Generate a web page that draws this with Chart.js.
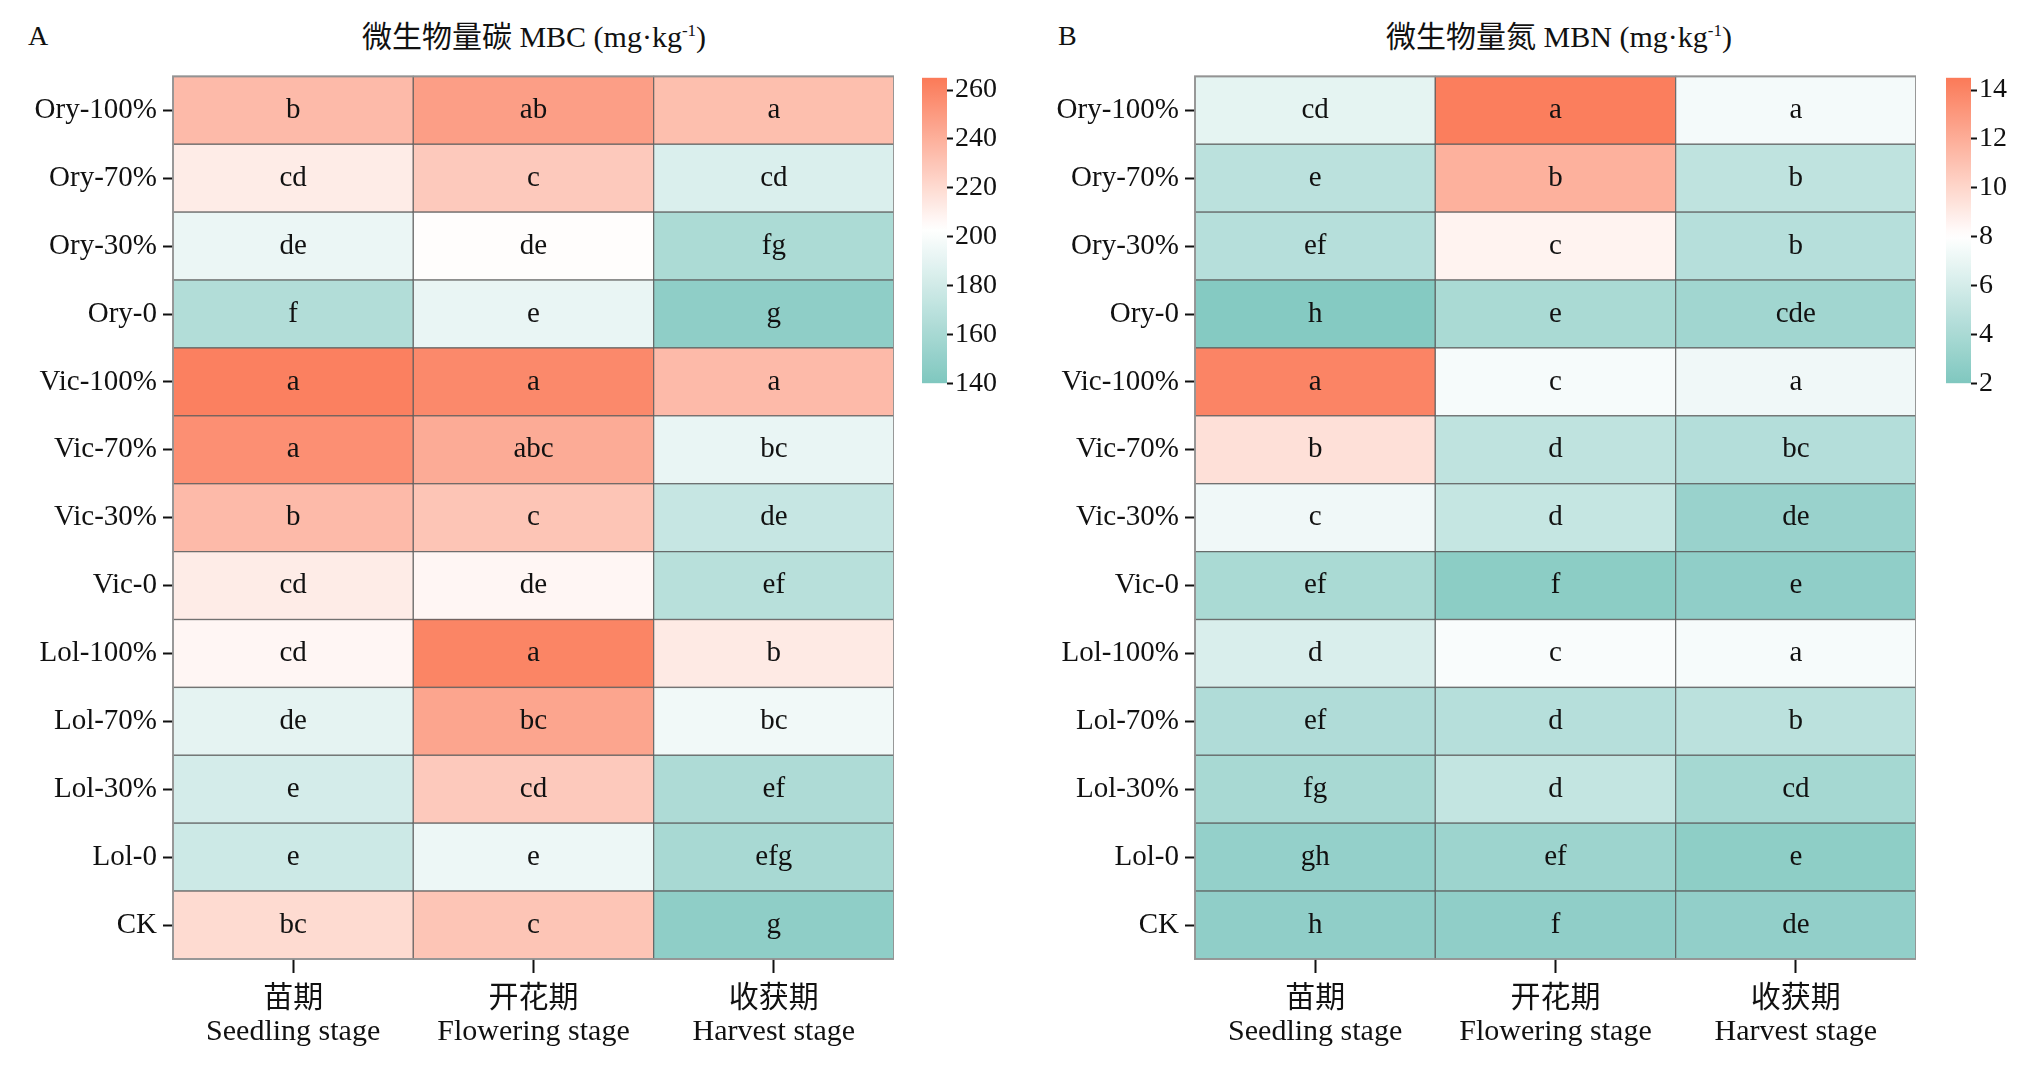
<!DOCTYPE html>
<html>
<head>
<meta charset="utf-8">
<script src="https://cdn.jsdelivr.net/npm/chart.js@4"></script>
<style>
  body { margin: 0; background: #fff; width: 2032px; height: 1072px; position: relative; overflow: hidden;
         font-family: "Liberation Serif", "Noto Sans CJK SC", serif; }
  canvas { position: absolute; }
  .ttl { position: absolute; font-size: 30px; color: #111; white-space: nowrap; transform: translateX(-50%); }
  .ttl sup { font-size: 17px; }
  .lab { position: absolute; font-size: 28px; color: #111; }
</style>
</head>
<body>
<div class="lab" style="left:28px;top:20px">A</div>
<div class="ttl" style="left:534px;top:12px">微生物量碳 MBC (mg·kg<sup>-1</sup>)</div>
<div class="lab" style="left:1058px;top:20px">B</div>
<div class="ttl" style="left:1559px;top:12px">微生物量氮 MBN (mg·kg<sup>-1</sup>)</div>

<canvas id="heatA" width="894" height="1019" style="left:0;top:53px"></canvas>
<canvas id="barA" width="95" height="343" style="left:922px;top:59px"></canvas>
<canvas id="heatB" width="894" height="1019" style="left:1022px;top:53px"></canvas>
<canvas id="barB" width="95" height="343" style="left:1946px;top:59px"></canvas>

<script>
// treatments (rows, top to bottom) and growth stages (columns)
const treatments = ["Ory-100%", "Ory-70%", "Ory-30%", "Ory-0", "Vic-100%", "Vic-70%", "Vic-30%", "Vic-0",
                    "Lol-100%", "Lol-70%", "Lol-30%", "Lol-0", "CK"];
const stages = [["苗期", "Seedling stage"], ["开花期", "Flowering stage"], ["收获期", "Harvest stage"]];

// MBC values, one array per stage, in treatment order
const mbcSeedling  = [235, 212, 193, 165, 262, 255, 235, 212, 207, 190, 182, 178, 220];
const mbcFlowering = [248, 228, 204, 192, 258, 242, 230, 207, 260, 245, 228, 194, 230];
const mbcHarvest   = [233, 185, 162, 148, 235, 192, 175, 168, 213, 196, 163, 160, 148];
const mbcLetters = [
  ["b", "cd", "de", "f", "a", "a", "b", "cd", "cd", "de", "e", "e", "bc"],
  ["ab", "c", "de", "e", "a", "abc", "c", "de", "a", "bc", "cd", "e", "c"],
  ["a", "cd", "fg", "g", "a", "bc", "de", "ef", "b", "bc", "ef", "efg", "g"]
];

// MBN values
const mbnSeedling  = [6.8, 4.8, 4.6, 2.3, 14.0, 9.5, 7.3, 4.0, 6.2, 4.3, 3.9, 3.0, 2.8];
const mbnFlowering = [14.3, 11.8, 8.6, 4.0, 7.6, 5.0, 5.3, 2.6, 7.7, 4.6, 5.2, 3.4, 2.8];
const mbnHarvest   = [7.5, 5.0, 4.6, 3.6, 7.3, 4.5, 3.2, 2.8, 7.6, 4.8, 3.8, 2.7, 2.9];
const mbnLetters = [
  ["cd", "e", "ef", "h", "a", "b", "c", "ef", "d", "ef", "fg", "gh", "h"],
  ["a", "b", "c", "e", "c", "d", "d", "f", "c", "d", "d", "ef", "f"],
  ["a", "b", "b", "cde", "a", "bc", "de", "e", "a", "b", "cd", "e", "de"]
];

// colour bar ranges and ticks
const mbcRange = { min: 140, mid: 203, max: 265 };
const mbcTicks = [140, 160, 180, 200, 220, 240, 260];
const mbnRange = { min: 2, mid: 8, max: 14.5 };
const mbnTicks = [2, 4, 6, 8, 10, 12, 14];

const LOW = [127, 199, 191], MIDC = [255, 255, 255], HIGH = [251, 122, 88];
const FONT = "'Liberation Serif', 'Noto Sans CJK SC', serif";

function colorFor(v, r) {
  let a, b, t;
  if (v <= r.mid) { a = LOW; b = MIDC; t = (v - r.min) / (r.mid - r.min); }
  else { a = MIDC; b = HIGH; t = (v - r.mid) / (r.max - r.mid); }
  t = Math.max(0, Math.min(1, t));
  const c = a.map((x, i) => Math.round(x + (b[i] - x) * t));
  return `rgb(${c[0]},${c[1]},${c[2]})`;
}

const cellPlugin = {
  id: "cells",
  beforeDatasetsDraw(chart) {
    const o = chart.options.plugins.cells;
    const ctx = chart.ctx, xs = chart.scales.x, ys = chart.scales.y;
    const cw = Math.abs(xs.getPixelForValue(1) - xs.getPixelForValue(0));
    const rh = Math.abs(ys.getPixelForValue(1) - ys.getPixelForValue(0));
    ctx.save();
    o.columns.forEach((col, c) => {
      col.forEach((v, r) => {
        const cx = xs.getPixelForValue(c), cy = ys.getPixelForValue(r);
        ctx.fillStyle = colorFor(v, o.range);
        ctx.fillRect(cx - cw / 2, cy - rh / 2, cw, rh);
        ctx.strokeStyle = "rgba(90,90,90,0.75)";
        ctx.lineWidth = 1.3;
        ctx.strokeRect(cx - cw / 2, cy - rh / 2, cw, rh);
        ctx.fillStyle = "#111";
        ctx.font = `29px ${FONT}`;
        ctx.textAlign = "center";
        ctx.textBaseline = "middle";
        ctx.fillText(o.letters[c][r], cx, cy);
      });
    });
    const a = chart.chartArea;
    ctx.strokeStyle = "rgba(150,150,150,0.9)";
    ctx.lineWidth = 2;
    ctx.strokeRect(a.left, a.top, a.right - a.left, a.bottom - a.top);
    ctx.restore();
  }
};

function heatmap(id, columns, letters, range) {
  new Chart(document.getElementById(id), {
    type: "scatter",
    data: { datasets: [{ data: columns.flatMap((col, c) => col.map((v, r) => ({ x: c, y: treatments[r] }))), pointRadius: 0 }] },
    options: {
      responsive: false, animation: false,
      layout: { padding: 0 },
      plugins: { legend: { display: false }, tooltip: { enabled: false },
                 cells: { columns: columns, letters: letters, range: range } },
      scales: {
        x: {
          type: "linear", min: -0.5, max: 2.5,
          afterBuildTicks: s => { s.ticks = [{ value: 0 }, { value: 1 }, { value: 2 }]; },
          afterFit: s => { s.height = 113; },
          border: { display: false },
          grid: { drawOnChartArea: false, tickLength: 14, color: "#111", tickWidth: 2 },
          ticks: { callback: v => stages[v], color: "#111", padding: 10, font: { family: FONT, size: 30, lineHeight: 1.1 } }
        },
        y: {
          type: "category", labels: treatments, offset: true,
          afterFit: s => { s.width = 173; },
          border: { display: false },
          grid: { drawOnChartArea: false, offset: false, tickLength: 10, color: "#111", tickWidth: 2 },
          ticks: { color: "#111", padding: 6, font: { family: FONT, size: 29 } }
        }
      }
    },
    plugins: [cellPlugin]
  });
}

const barPlugin = {
  id: "bar",
  beforeDatasetsDraw(chart) {
    const r = chart.options.plugins.bar.range, a = chart.chartArea, ys = chart.scales.y;
    const ctx = chart.ctx;
    const g = ctx.createLinearGradient(0, a.bottom, 0, a.top);
    const stops = 40;
    for (let i = 0; i <= stops; i++) {
      const v = r.min + (r.max - r.min) * i / stops;
      g.addColorStop((ys.getPixelForValue(v) - a.bottom) / (a.top - a.bottom), colorFor(v, r));
    }
    ctx.save();
    ctx.fillStyle = g;
    ctx.fillRect(a.left, a.top, a.right - a.left, a.bottom - a.top);
    ctx.restore();
  }
};

function colorbar(id, range, ticks) {
  new Chart(document.getElementById(id), {
    type: "bar",
    data: { labels: [""], datasets: [{ data: [] }] },
    options: {
      responsive: false, animation: false,
      layout: { padding: { top: 15, bottom: 15, left: 0, right: 0 } },
      plugins: { legend: { display: false }, tooltip: { enabled: false }, bar: { range: range } },
      scales: {
        x: { display: false },
        y: {
          position: "right", min: range.min, max: range.max,
          afterBuildTicks: s => { s.ticks = ticks.map(v => ({ value: v })); },
          afterFit: s => { s.width = 70; },
          border: { display: false },
          grid: { drawOnChartArea: false, tickLength: 6, color: "#111", tickWidth: 2 },
          ticks: { color: "#111", padding: 2, font: { family: FONT, size: 28 } }
        }
      }
    },
    plugins: [barPlugin]
  });
}

heatmap("heatA", [mbcSeedling, mbcFlowering, mbcHarvest], mbcLetters, mbcRange);
heatmap("heatB", [mbnSeedling, mbnFlowering, mbnHarvest], mbnLetters, mbnRange);
colorbar("barA", mbcRange, mbcTicks);
colorbar("barB", mbnRange, mbnTicks);
</script>
</body>
</html>
